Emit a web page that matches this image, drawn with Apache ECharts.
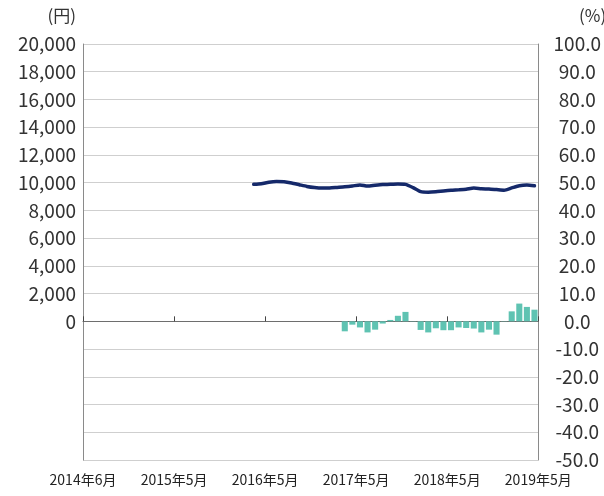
<!DOCTYPE html>
<html><head><meta charset="utf-8">
<script src="https://cdn.jsdelivr.net/npm/echarts@6/dist/echarts.min.js"></script>
<style>html,body{margin:0;padding:0;background:#fff}#c{width:604px;height:496px}</style>
</head><body><div id="c"></div>
<script>
const months = [
 '2014年6月','2014年7月','2014年8月','2014年9月','2014年10月','2014年11月','2014年12月',
 '2015年1月','2015年2月','2015年3月','2015年4月','2015年5月','2015年6月','2015年7月','2015年8月','2015年9月','2015年10月','2015年11月','2015年12月',
 '2016年1月','2016年2月','2016年3月','2016年4月','2016年5月','2016年6月','2016年7月','2016年8月','2016年9月','2016年10月','2016年11月','2016年12月',
 '2017年1月','2017年2月','2017年3月','2017年4月','2017年5月','2017年6月','2017年7月','2017年8月','2017年9月','2017年10月','2017年11月','2017年12月',
 '2018年1月','2018年2月','2018年3月','2018年4月','2018年5月','2018年6月','2018年7月','2018年8月','2018年9月','2018年10月','2018年11月','2018年12月',
 '2019年1月','2019年2月','2019年3月','2019年4月','2019年5月'
];
const tickLabels = ['2014年6月','2015年5月','2016年5月','2017年5月','2018年5月','2019年5月'];
// 円 (from 2016年4月)
const priceStart = 22;
const priceValues = [9880,9920,10030,10080,10060,9970,9850,9730,9650,9610,9620,9660,9700,9760,9840,9760,9820,9870,9880,9910,9880,9640,9350,9310,9340,9400,9450,9480,9520,9610,9560,9540,9500,9460,9620,9780,9830,9770];
// % 前年同月比 (from 2017年4月)
const changeStart = 34;
const changeValues = [-3.6,-1.2,-2.2,-4.0,-3.0,-0.8,0.5,2.0,3.4,-0.1,-3.1,-4.0,-2.5,-3.2,-3.2,-2.2,-2.4,-2.6,-4.0,-3.0,-4.8,-0.1,3.6,6.4,5.2,4.2];

const pad = n => new Array(n).fill(null);
const priceData = pad(priceStart).concat(priceValues);
const changeData = pad(changeStart).concat(changeValues);
const comma = v => String(v).replace(/\B(?=(\d{3})+(?!\d))/g, ',');
const FONT = '"Noto Sans CJK JP", "Noto Sans", sans-serif';

const chart = echarts.init(document.getElementById('c'), null, {renderer: 'canvas'});
chart.setOption({
  animation: false,
  textStyle: {fontFamily: FONT},
  grid: {left: 83, right: 65, top: 44, bottom: 36, containLabel: false},
  graphic: [
    {type: 'text', right: 528, top: 7, style: {text: '(円)', font: '17px ' + FONT, fill: '#333', textAlign: 'right'}},
    {type: 'text', left: 579, top: 7, style: {text: '(%)', font: '17px ' + FONT, fill: '#333'}}
  ],
  xAxis: [
    {
      type: 'category', data: months, boundaryGap: true, position: 'bottom',
      axisLine: {show: true, onZero: true, lineStyle: {color: '#6e6e6e', width: 1}},
      axisTick: {show: true, inside: true, length: 5, interval: i => i % 12 === 0, lineStyle: {color: '#444'}},
      axisLabel: {show: false}, splitLine: {show: false}
    },
    {
      type: 'value', min: 0, max: 60, interval: 12, position: 'bottom',
      axisLine: {show: false, onZero: false}, axisTick: {show: false}, splitLine: {show: false},
      axisLabel: {show: true, margin: 13, fontSize: 14, color: '#222', fontFamily: FONT,
        formatter: v => tickLabels[Math.round(v / 12)] || ''}
    }
  ],
  yAxis: [
    {
      type: 'value', min: -10000, max: 20000, interval: 2000, position: 'left',
      axisLine: {show: true, onZero: false, lineStyle: {color: '#8a8a8a'}},
      axisTick: {show: false},
      splitLine: {show: true, lineStyle: {color: '#cfcfcf', width: 1}},
      axisLabel: {margin: 7, fontSize: 19, color: '#333', fontFamily: FONT,
        formatter: v => v < 0 ? '' : comma(v)}
    },
    {
      type: 'value', min: -50, max: 100, interval: 10, position: 'right',
      axisLine: {show: true, onZero: false, lineStyle: {color: '#8a8a8a'}},
      axisTick: {show: false}, splitLine: {show: false},
      axisLabel: {margin: 39, align: 'center', fontSize: 19, color: '#333', fontFamily: FONT,
        formatter: v => v.toFixed(1)}
    }
  ],
  series: [
    {
      type: 'bar', xAxisIndex: 0, yAxisIndex: 1, data: changeData,
      barCategoryGap: '20%', itemStyle: {color: '#5fc3b2'}, z: 2
    },
    {
      type: 'line', xAxisIndex: 0, yAxisIndex: 0, data: priceData,
      showSymbol: false, symbol: 'none', connectNulls: false, smooth: 0.2,
      lineStyle: {color: '#15296a', width: 3.5, cap: 'round', join: 'round'}, z: 3
    }
  ]
});
</script></body></html>
